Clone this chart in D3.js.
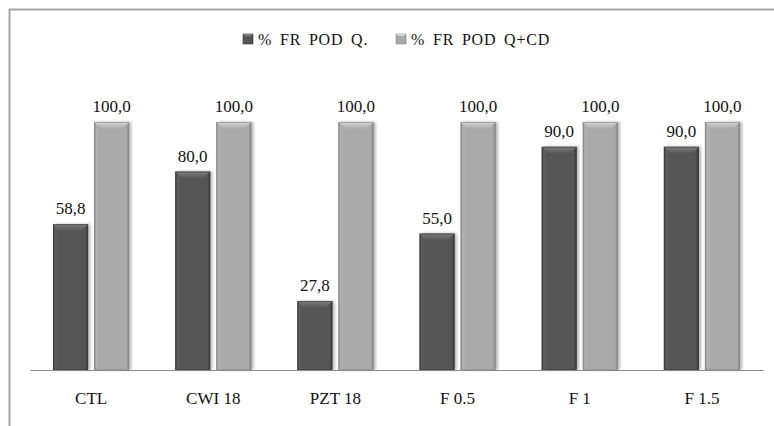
<!DOCTYPE html>
<html>
<head>
<meta charset="utf-8">
<script src="https://cdn.jsdelivr.net/npm/d3@7"></script>
</head>
<body style="margin:0;background:#fff">
<svg id="chart" width="774" height="426"></svg>
<script>
// Categories and series
const categories = ["CTL", "CWI 18", "PZT 18", "F 0.5", "F 1", "F 1.5"];
const seriesNames = ["% FR POD Q.", "% FR POD Q+CD"];
const podQ = [58.8, 80.0, 27.8, 55.0, 90.0, 90.0];
const podQCD = [100.0, 100.0, 100.0, 100.0, 100.0, 100.0];

const FONT = "'Liberation Serif'";
const W = 774, H = 426;
const margin = { left: 30, right: 11, top: 73, bottom: 56 };
const svg = d3.select("#chart").style("display", "block");

function serif(sel, size) {
  return sel.attr("font-family", FONT).style("font-family", "Liberation Serif")
    .attr("font-size", size).attr("fill", "#111");
}

// Outer frame (only top and left edges fall inside the view)
svg.append("path")
  .attr("d", `M9.5,${H} V9.5 H${W}`)
  .attr("fill", "none").attr("stroke", "#a6a6a6").attr("stroke-width", 2);

const x0 = d3.scaleBand().domain(categories)
  .range([margin.left, W - margin.right]).paddingInner(0).paddingOuter(0);
const x1 = d3.scaleBand().domain([0, 1]).range([0, x0.bandwidth()])
  .paddingInner(0.146).paddingOuter(0.56);
const y = d3.scaleLinear().domain([0, 120]).range([H - margin.bottom, H - margin.bottom - 120 * 2.48]);

const defs = svg.append("defs");
const palettes = [
  { edge: "#333333", mid: "#555555", side: "#5e5e5e", top: "#7e7e7e", topEdge: "#3a3a3a" },
  { edge: "#7e7e7e", mid: "#aaaaaa", side: "#b2b2b2", top: "#d4d4d4", topEdge: "#8a8a8a" }
];
palettes.forEach((p, i) => {
  const g = defs.append("linearGradient").attr("id", "body" + i)
    .attr("x1", 0).attr("x2", 1).attr("y1", 0).attr("y2", 0);
  g.append("stop").attr("offset", "0%").attr("stop-color", p.edge);
  g.append("stop").attr("offset", "6%").attr("stop-color", p.side);
  g.append("stop").attr("offset", "16%").attr("stop-color", p.mid);
  g.append("stop").attr("offset", "92%").attr("stop-color", p.mid);
  g.append("stop").attr("offset", "100%").attr("stop-color", p.edge);
  const t = defs.append("linearGradient").attr("id", "top" + i)
    .attr("x1", 0).attr("x2", 0).attr("y1", 0).attr("y2", 1);
  t.append("stop").attr("offset", "0%").attr("stop-color", p.top);
  t.append("stop").attr("offset", "100%").attr("stop-color", p.mid);
});
const shadow = defs.append("filter").attr("id", "shadow")
  .attr("x", "-30%").attr("y", "-10%").attr("width", "160%").attr("height", "120%");
shadow.append("feGaussianBlur").attr("in", "SourceAlpha").attr("stdDeviation", 1.6).attr("result", "b");
shadow.append("feOffset").attr("in", "b").attr("dx", 1.5).attr("dy", 0).attr("result", "o");
shadow.append("feComponentTransfer").attr("in", "o").attr("result", "s")
  .append("feFuncA").attr("type", "linear").attr("slope", 0.3);
const m = shadow.append("feMerge");
m.append("feMergeNode").attr("in", "s");
m.append("feMergeNode").attr("in", "SourceGraphic");

const rows = categories.map((c, i) => ({ c, vals: [podQ[i], podQCD[i]] }));

const groups = svg.append("g").selectAll("g").data(rows).join("g")
  .attr("transform", d => `translate(${x0(d.c)},0)`);

const bars = groups.selectAll("g.bar").data(d => d.vals.map((v, k) => ({ v, k })))
  .join("g").attr("class", "bar");

bars.each(function (d) {
  const g = d3.select(this);
  const bx = x1(d.k), bw = x1.bandwidth();
  const yt = y(d.v), yb = y(0);
  const p = palettes[d.k];
  const bevel = 7;
  const wrap = g.append("g").attr("filter", "url(#shadow)");
  wrap.append("rect").attr("x", bx).attr("y", yt).attr("width", bw).attr("height", yb - yt)
    .attr("fill", `url(#body${d.k})`);
  // bevelled cap
  wrap.append("path")
    .attr("d", `M${bx},${yt} H${bx + bw} L${bx + bw - bevel},${yt + bevel} H${bx + bevel} Z`)
    .attr("fill", `url(#top${d.k})`);
  wrap.append("rect").attr("x", bx + 0.5).attr("y", yt + 0.5).attr("width", bw - 1).attr("height", yb - yt - 1)
    .attr("fill", "none").attr("stroke", p.topEdge).attr("stroke-width", 1).attr("stroke-opacity", 0.6);
  serif(g.append("text"), 17)
    .attr("x", bx + bw / 2).attr("y", yt - 10)
    .attr("text-anchor", "middle")
    .text(d3.format(".1f")(d.v).replace(".", ","));
});

// Category axis line and labels
const axisG = svg.append("g").attr("transform", `translate(0,${y(0)})`)
  .call(d3.axisBottom(x0).tickSize(0).tickPadding(22));
axisG.attr("font-family", FONT).style("font-family", "Liberation Serif");
axisG.select(".domain").attr("stroke", "#8c8c8c").attr("stroke-width", 1.2);
serif(axisG.selectAll("text"), 17);

// Legend
const legendX = [243, 396];
const legend = svg.append("g");
seriesNames.forEach((name, k) => {
  const lg = legend.append("g").attr("transform", `translate(${legendX[k]},34)`);
  lg.append("rect").attr("x", 0).attr("y", 0).attr("width", 10).attr("height", 10)
    .attr("fill", `url(#body${k})`).attr("stroke", palettes[k].topEdge).attr("stroke-width", 0.6);
  lg.append("path").attr("d", "M0,0 H10 L8,2 H2 Z").attr("fill", palettes[k].top);
  serif(lg.append("text"), 16).attr("x", 15).attr("y", 11)
    .attr("letter-spacing", 0.8).attr("word-spacing", 3).text(name);
});
</script>
</body>
</html>
